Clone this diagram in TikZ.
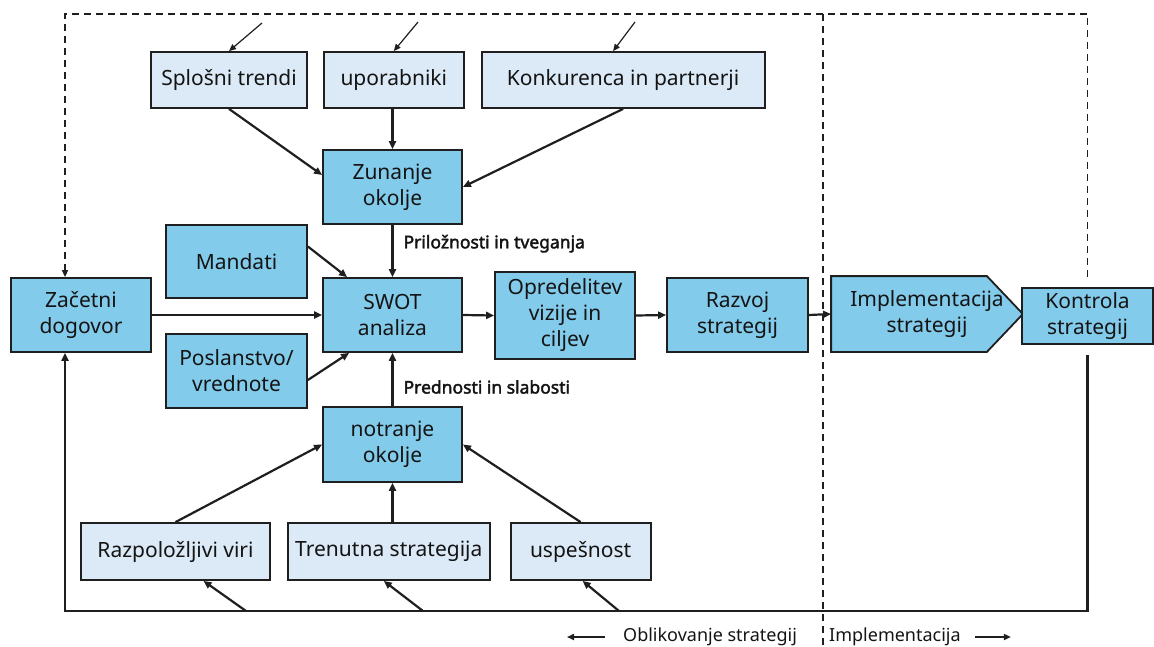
\documentclass[tikz,border=0pt]{standalone}
\usepackage{fontspec}
\setmainfont{Noto Sans}
\newfontfamily\labelfont{Noto Sans}[FakeBold=2.2]
\usetikzlibrary{positioning, arrows.meta}
\pgfdeclarelayer{background}
\pgfsetlayers{background,main}
\definecolor{boxdark}{HTML}{83CBEB}
\definecolor{boxlight}{HTML}{DCEAF7}
\definecolor{edge}{HTML}{1F1F1F}
\definecolor{textc}{HTML}{141414}

\begin{document}
\begin{tikzpicture}[x=1pt, y=-1pt,
  darkbox/.style={draw=edge, line width=1.8pt, fill=boxdark, text=textc, align=center, inner sep=2pt, font=\fontsize{21}{26}\selectfont},
  lightbox/.style={draw=edge, line width=1.8pt, fill=boxlight, text=textc, align=center, inner sep=2pt, font=\fontsize{21}{26}\selectfont},
  flowarrow/.style={draw=edge, line width=2.2pt, -{Triangle[length=8pt, width=7pt]}},
  thinarrow/.style={draw=edge, line width=1.2pt, -{Triangle[length=7pt, width=6pt]}},
  dashline/.style={draw=edge, line width=1.5pt, dash pattern=on 7pt off 5pt},
  edgelabel/.style={text=textc, font=\labelfont\fontsize{17.5}{21}\selectfont, inner sep=2pt},
  legendtext/.style={text=textc, font=\fontsize{18}{22}\selectfont, inner sep=0pt},
  legendarrow/.style={draw=edge, line width=1.6pt, -{Triangle[length=7pt, width=6pt]}}
]
\useasboundingbox (0,0) rectangle (1154,646);

\node (ST) [lightbox, minimum width=156pt, minimum height=56pt] at (229,80) {Splošni trendi};
\node (UP) [lightbox, minimum width=140pt, minimum height=56pt, right=15pt of ST] {uporabniki};
\node (KP) [lightbox, minimum width=283pt, minimum height=56pt, right=16pt of UP] {Konkurenca in partnerji};

\node (ZO) [darkbox, minimum width=139pt, minimum height=74pt] at (392.5,187) {Zunanje\\okolje};
\node (MA) [darkbox, minimum width=141pt, minimum height=73pt] at (236.5,261.5) {Mandati};
\node (ZD) [darkbox, minimum width=140pt, minimum height=74pt] at (81,315) {Začetni\\dogovor};
\node (SW) [darkbox, minimum width=139pt, minimum height=74pt] at (392.5,315) {SWOT\\analiza};
\node (PV) [darkbox, minimum width=141pt, minimum height=74pt] at (236.5,371) {Poslanstvo/\\vrednote};
\node (OV) [darkbox, minimum width=140pt, minimum height=87pt] at (565,315.5) {Opredelitev\\vizije in\\ciljev};
\node (RS) [darkbox, minimum width=141pt, minimum height=74pt] at (737.5,315) {Razvoj\\strategij};
\node (IS) [darkbox, draw=none, fill=none, minimum width=190pt, minimum height=74pt] at (927,314) {Implementacija\\strategij};
\node (KS) [darkbox, minimum width=131pt, minimum height=56pt] at (1087.5,316) {Kontrola\\strategij};
\node (NO) [darkbox, minimum width=139pt, minimum height=75pt] at (392.5,444.5) {notranje\\okolje};

\node (RV) [lightbox, minimum width=189pt, minimum height=57pt] at (175.5,551.5) {Razpoložljivi viri};
\node (TS) [lightbox, minimum width=202pt, minimum height=57pt, right=16pt of RV] {Trenutna strategija};
\node (US) [lightbox, minimum width=140pt, minimum height=57pt, right=19pt of TS] {uspešnost};

\begin{pgfonlayer}{background}
\draw[draw=edge, line width=1.8pt, fill=boxdark] (IS.north west) -- ([xshift=-36pt]IS.north east) -- (IS.east) -- ([xshift=-36pt]IS.south east) -- (IS.south west) -- cycle;
\end{pgfonlayer}

\coordinate (T1) at (262,23);
\coordinate (T2) at (418,22);
\coordinate (T3) at (635,22);
\coordinate (DL) at (65,14);
\coordinate (DT) at (823,14);
\coordinate (DB) at (823,646);
\coordinate (BL) at (65,611);
\coordinate (B1) at (246,611);
\coordinate (B2) at (423,611);
\coordinate (B3) at (619,611);

\draw[thinarrow] (T1) -- (ST.north);
\draw[thinarrow] (T2) -- (UP.north);
\draw[thinarrow] (T3) -- ([xshift=-10pt]KP.north);

\draw[flowarrow] (ST.south) -- ([yshift=12pt]ZO.west);
\draw[flowarrow] (ZO.north |- UP.south) -- (ZO.north);
\draw[flowarrow] (KP.south) -- (ZO.east);
\draw[flowarrow] (ZO.south) -- node[edgelabel, pos=0.36, right=8pt] {Priložnosti in tveganja} (SW.north);
\draw[flowarrow] ([yshift=15pt]MA.east) -- ([xshift=25pt]SW.north west);
\draw[flowarrow] ([yshift=-9pt]PV.east) -- ([xshift=27pt]SW.south west);
\draw[flowarrow] (ZD.east) -- (SW.west);
\draw[flowarrow] (SW.east) -- (OV.west);
\draw[flowarrow] (OV.east) -- (RS.west);
\draw[flowarrow] (RS.east) -- (IS.west);
\draw[flowarrow] (NO.north) -- node[edgelabel, pos=0.36, right=8pt] {Prednosti in slabosti} (SW.south);

\draw[flowarrow] (RV.north) -- (NO.west);
\draw[flowarrow] (NO.south |- TS.north) -- (NO.south);
\draw[flowarrow] (US.north) -- (NO.east);

\draw[flowarrow] ([yshift=-10pt]KS.south) |- (BL) -- ([xshift=-16pt]ZD.south);
\draw[flowarrow] (B1) -- ([xshift=28pt]RV.south);
\draw[flowarrow] (B2) -- ([xshift=-5pt]TS.south);
\draw[flowarrow] (B3) -- ([xshift=2pt]US.south);

\draw[dashline, -{Triangle[length=7pt, width=6pt]}] ([yshift=10pt]KS.north) |- (DL) -- ([xshift=-16pt]ZD.north);
\draw[dashline] (DT) -- (DB);

\node (LO) [legendtext, anchor=west] at (623,637) {Oblikovanje strategij};
\node (LI) [legendtext, anchor=west] at (829,637) {Implementacija};
\draw[legendarrow] ([xshift=-18pt]LO.west) -- ([xshift=-56pt]LO.west);
\draw[legendarrow] ([xshift=14pt]LI.east) -- ([xshift=50pt]LI.east);

\end{tikzpicture}
\end{document}
